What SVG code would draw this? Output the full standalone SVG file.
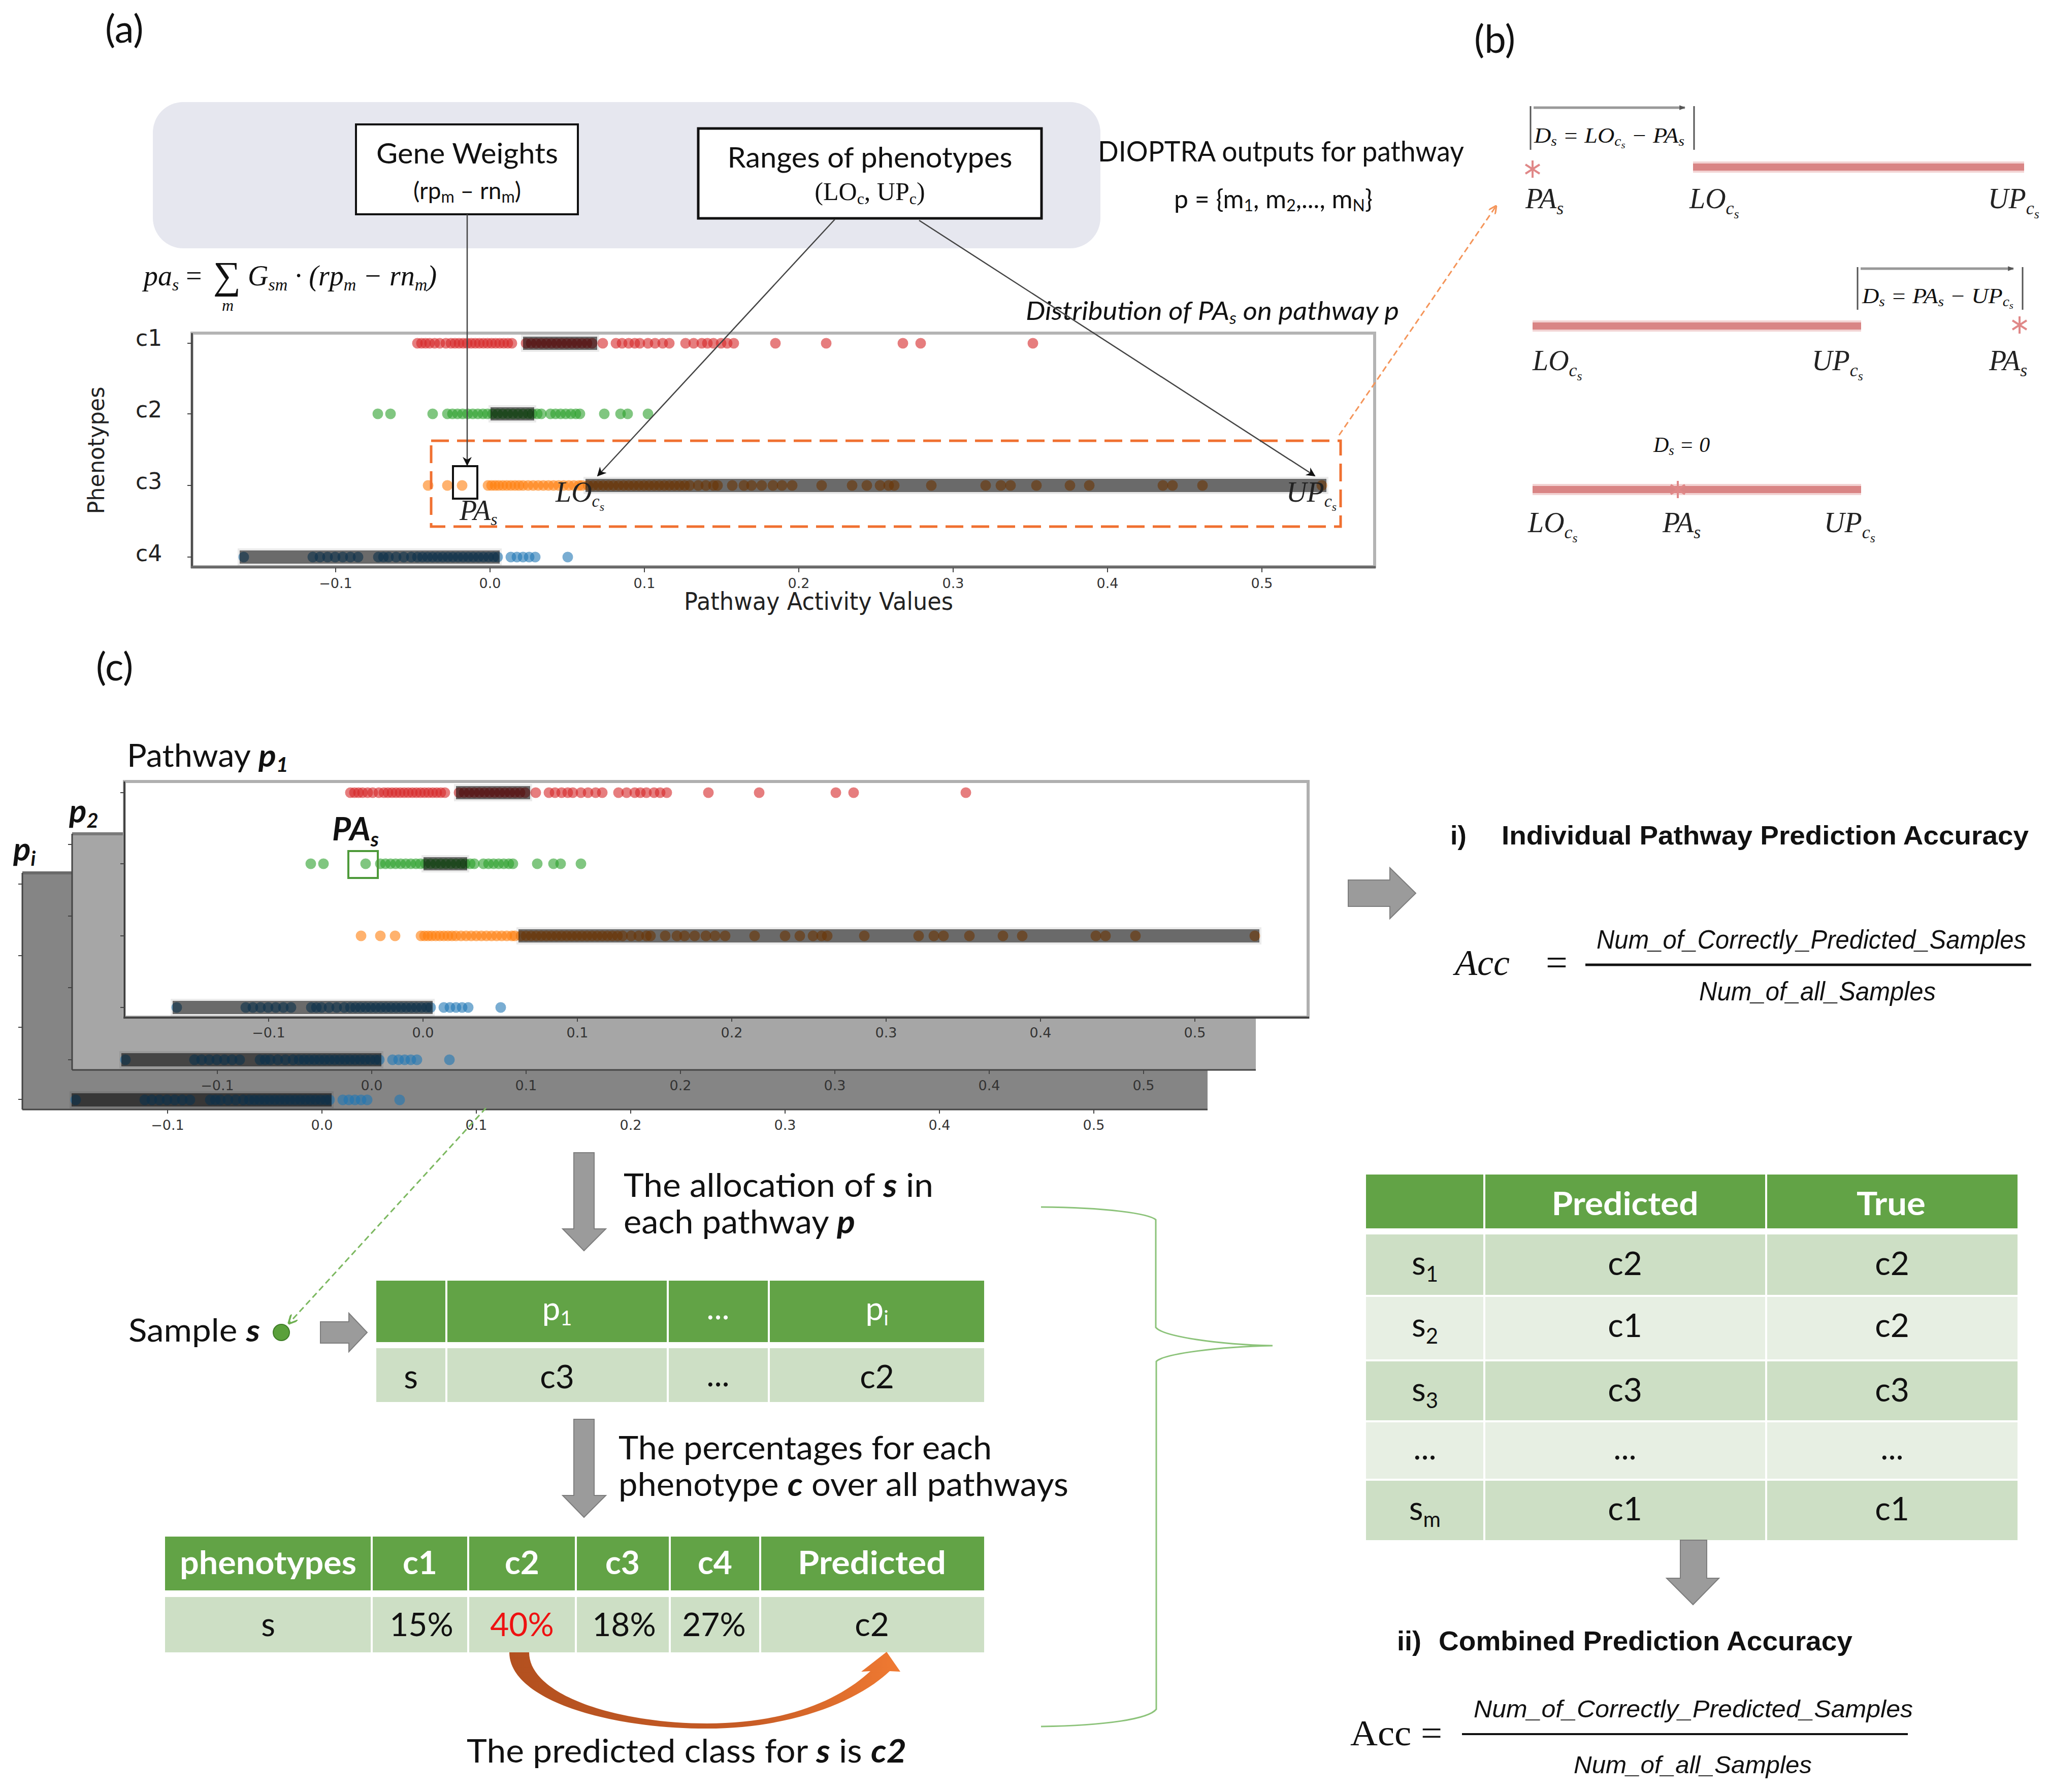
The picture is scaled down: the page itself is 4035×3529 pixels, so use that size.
<svg xmlns="http://www.w3.org/2000/svg" width="4035" height="3529" viewBox="0 0 4035 3529">
<style>
.sans{font-family:Lato,"Liberation Sans",sans-serif;fill:#111}
.mpl{font-family:"DejaVu Sans","Liberation Sans",sans-serif;fill:#222}
.ser{font-family:"Liberation Serif","Times New Roman",serif;fill:#111}
.ar{font-family:"Liberation Sans",Arial,sans-serif;fill:#111}
.it{font-style:italic}
.bi{font-weight:bold;font-style:italic}
.tick{font-family:"DejaVu Sans","Liberation Sans",sans-serif;font-size:27px;fill:#333;text-anchor:middle}
.hdr{fill:#62a346}
.bd{fill:#cddfc5}
.bl{fill:#e7efe3}
.cell{font-family:Lato,"Liberation Sans",sans-serif;font-size:64px;fill:#111;text-anchor:middle}
.hcell{font-family:Lato,"Liberation Sans",sans-serif;font-size:64px;fill:#fff;text-anchor:middle}
.blk{fill:#9b9b9b;stroke:#7d7d7d;stroke-width:2}
.bar{stroke:#d98585;stroke-width:14;fill:none}
.barh{stroke:#f2d3d3;stroke-width:22;fill:none}
.ast{stroke:#e08888;stroke-width:4;fill:none}
.brk{stroke:#555;stroke-width:3}
.lab{font-family:"Liberation Serif",serif;font-style:italic;font-size:56px;fill:#222}
.tk{stroke:#444;stroke-width:2}
.dots circle{r:10.5px}
</style>
<defs>
<marker id="ah" viewBox="0 0 10 10" refX="9" refY="5" markerWidth="18" markerHeight="18" markerUnits="userSpaceOnUse" orient="auto"><path d="M0,0 L10,5 L0,10 L3,5 z" fill="#111"/></marker>
<marker id="ahs" viewBox="0 0 10 10" refX="9" refY="5" markerWidth="12" markerHeight="12" markerUnits="userSpaceOnUse" orient="auto"><path d="M0,1 L10,5 L0,9 z" fill="#555"/></marker>
<marker id="aho" viewBox="0 0 10 10" refX="9" refY="5" markerWidth="16" markerHeight="16" markerUnits="userSpaceOnUse" orient="auto"><path d="M0,0 L10,5 L0,10" fill="none" stroke="#f4955a" stroke-width="2"/></marker>
<marker id="ahg" viewBox="0 0 10 10" refX="9" refY="5" markerWidth="18" markerHeight="18" markerUnits="userSpaceOnUse" orient="auto"><path d="M0,0 L10,5 L0,10" fill="none" stroke="#6fb052" stroke-width="2"/></marker>
<linearGradient id="og" x1="0" y1="0" x2="1" y2="0"><stop offset="0" stop-color="#b3501f"/><stop offset="0.6" stop-color="#c65b25"/><stop offset="1" stop-color="#f07a32"/></linearGradient>
<g id="rowC1">
<g class="dots" fill="#d62728" fill-opacity="0.6">
<circle cx="822" r="10"/><circle cx="830" r="10"/><circle cx="838" r="10"/><circle cx="846" r="10"/><circle cx="856" r="10"/><circle cx="866" r="10"/><circle cx="878" r="10"/><circle cx="888" r="10"/><circle cx="896" r="10"/><circle cx="904" r="10"/><circle cx="912" r="10"/><circle cx="920" r="10"/><circle cx="928" r="10"/><circle cx="936" r="10"/><circle cx="944" r="10"/><circle cx="952" r="10"/><circle cx="960" r="10"/><circle cx="968" r="10"/><circle cx="976" r="10"/><circle cx="984" r="10"/><circle cx="992" r="10"/><circle cx="1000" r="10"/><circle cx="1008" r="10"/><circle cx="1036" r="10"/><circle cx="1046" r="10"/><circle cx="1056" r="10"/><circle cx="1066" r="10"/><circle cx="1076" r="10"/><circle cx="1086" r="10"/><circle cx="1096" r="10"/><circle cx="1106" r="10"/><circle cx="1116" r="10"/><circle cx="1126" r="10"/><circle cx="1136" r="10"/><circle cx="1146" r="10"/><circle cx="1156" r="10"/><circle cx="1166" r="10"/><circle cx="1187" r="10"/><circle cx="1213" r="10"/><circle cx="1225" r="10"/><circle cx="1238" r="10"/><circle cx="1250" r="10"/><circle cx="1260" r="10"/><circle cx="1276" r="10"/><circle cx="1290" r="10"/><circle cx="1305" r="10"/><circle cx="1318" r="10"/><circle cx="1350" r="10"/><circle cx="1366" r="10"/><circle cx="1382" r="10"/><circle cx="1393" r="10"/><circle cx="1405" r="10"/><circle cx="1420" r="10"/><circle cx="1432" r="10"/><circle cx="1445" r="10"/><circle cx="1527" r="10"/><circle cx="1627" r="10"/><circle cx="1778" r="10"/><circle cx="1813" r="10"/><circle cx="2034" r="10"/>
</g>
<rect x="1026" y="-17" width="154" height="34" fill="#000" fill-opacity="0.08"/>
<rect x="1030" y="-13" width="146" height="26" fill="#000" fill-opacity="0.55"/>
</g>
<g id="rowC2">
<g class="dots" fill="#2ca02c" fill-opacity="0.6">
<circle cx="744" r="10"/><circle cx="769" r="10"/><circle cx="852" r="10"/><circle cx="881" r="10"/><circle cx="891" r="10"/><circle cx="901" r="10"/><circle cx="911" r="10"/><circle cx="921" r="10"/><circle cx="931" r="10"/><circle cx="941" r="10"/><circle cx="951" r="10"/><circle cx="960" r="10"/><circle cx="970" r="10"/><circle cx="980" r="10"/><circle cx="990" r="10"/><circle cx="1000" r="10"/><circle cx="1010" r="10"/><circle cx="1020" r="10"/><circle cx="1030" r="10"/><circle cx="1040" r="10"/><circle cx="1048" r="10"/><circle cx="1058" r="10"/><circle cx="1066" r="10"/><circle cx="1084" r="10"/><circle cx="1094" r="10"/><circle cx="1104" r="10"/><circle cx="1114" r="10"/><circle cx="1124" r="10"/><circle cx="1134" r="10"/><circle cx="1142" r="10"/><circle cx="1190" r="10"/><circle cx="1222" r="10"/><circle cx="1236" r="10"/><circle cx="1276" r="10"/>
</g>
<rect x="962" y="-17" width="94" height="34" fill="#000" fill-opacity="0.08"/>
<rect x="966" y="-13" width="86" height="26" fill="#000" fill-opacity="0.55"/>
</g>
<g id="rowC3">
<g class="dots" fill="#ff7f0e" fill-opacity="0.6">
<circle cx="843" r="10"/><circle cx="881" r="10"/><circle cx="910" r="10"/><circle cx="961" r="10"/><circle cx="968" r="10"/><circle cx="975" r="10"/><circle cx="982" r="10"/><circle cx="990" r="10"/><circle cx="998" r="10"/><circle cx="1006" r="10"/><circle cx="1014" r="10"/><circle cx="1022" r="10"/><circle cx="1030" r="10"/><circle cx="1040" r="10"/><circle cx="1050" r="10"/><circle cx="1060" r="10"/><circle cx="1070" r="10"/><circle cx="1080" r="10"/><circle cx="1090" r="10"/><circle cx="1100" r="10"/><circle cx="1110" r="10"/><circle cx="1120" r="10"/><circle cx="1130" r="10"/><circle cx="1140" r="10"/><circle cx="1146" r="10"/><circle cx="1158" r="10"/><circle cx="1168" r="10"/><circle cx="1178" r="10"/><circle cx="1188" r="10"/><circle cx="1198" r="10"/><circle cx="1208" r="10"/><circle cx="1218" r="10"/><circle cx="1228" r="10"/><circle cx="1238" r="10"/><circle cx="1248" r="10"/><circle cx="1258" r="10"/><circle cx="1268" r="10"/><circle cx="1278" r="10"/><circle cx="1288" r="10"/><circle cx="1298" r="10"/><circle cx="1308" r="10"/><circle cx="1318" r="10"/><circle cx="1328" r="10"/><circle cx="1338" r="10"/><circle cx="1348" r="10"/><circle cx="1358" r="10"/><circle cx="1375" r="10"/><circle cx="1390" r="10"/><circle cx="1405" r="10"/><circle cx="1413" r="10"/><circle cx="1442" r="10"/><circle cx="1465" r="10"/><circle cx="1480" r="10"/><circle cx="1500" r="10"/><circle cx="1522" r="10"/><circle cx="1540" r="10"/><circle cx="1560" r="10"/><circle cx="1618" r="10"/><circle cx="1678" r="10"/><circle cx="1707" r="10"/><circle cx="1733" r="10"/><circle cx="1750" r="10"/><circle cx="1761" r="10"/><circle cx="1834" r="10"/><circle cx="1941" r="10"/><circle cx="1971" r="10"/><circle cx="1990" r="10"/><circle cx="2041" r="10"/><circle cx="2107" r="10"/><circle cx="2145" r="10"/><circle cx="2290" r="10"/><circle cx="2309" r="10"/><circle cx="2368" r="10"/><circle cx="2603" r="10"/>
</g>
<rect x="1149" y="-17" width="1467" height="34" fill="#000" fill-opacity="0.08"/>
<rect x="1153" y="-13" width="1459" height="26" fill="#000" fill-opacity="0.55"/>
</g>
<g id="rowC4">
<g class="dots" fill="#1f77b4" fill-opacity="0.6">
<circle cx="480" r="10"/><circle cx="616" r="10"/><circle cx="630" r="10"/><circle cx="645" r="10"/><circle cx="660" r="10"/><circle cx="675" r="10"/><circle cx="690" r="10"/><circle cx="705" r="10"/><circle cx="745" r="10"/><circle cx="755" r="10"/><circle cx="765" r="10"/><circle cx="780" r="10"/><circle cx="795" r="10"/><circle cx="810" r="10"/><circle cx="822" r="10"/><circle cx="832" r="10"/><circle cx="842" r="10"/><circle cx="852" r="10"/><circle cx="862" r="10"/><circle cx="872" r="10"/><circle cx="882" r="10"/><circle cx="892" r="10"/><circle cx="902" r="10"/><circle cx="912" r="10"/><circle cx="922" r="10"/><circle cx="932" r="10"/><circle cx="942" r="10"/><circle cx="952" r="10"/><circle cx="962" r="10"/><circle cx="972" r="10"/><circle cx="980" r="10"/><circle cx="1006" r="10"/><circle cx="1018" r="10"/><circle cx="1030" r="10"/><circle cx="1042" r="10"/><circle cx="1054" r="10"/><circle cx="1118" r="10"/>
</g>
<rect x="468" y="-17" width="520" height="34" fill="#000" fill-opacity="0.08"/>
<rect x="472" y="-13" width="512" height="26" fill="#000" fill-opacity="0.55"/>
</g>
</defs>

<rect x="0" y="0" width="4035" height="3529" fill="#fff"/>

<!-- Panel labels -->
<text class="sans" x="207" y="84" font-size="76">(a)</text>
<text class="sans" x="2903" y="104" font-size="76">(b)</text>
<text class="sans" x="189" y="1340" font-size="76">(c)</text>

<!-- ===== Panel (a) ===== -->
<g id="dioptra-bg">
<rect x="301" y="201" width="1866" height="288" rx="60" fill="#e6e7ef"/>
</g>
<g id="gene-weights">
<rect x="701" y="245" width="437" height="177" fill="#fff" stroke="#111" stroke-width="4"/>
<text class="sans" x="920" y="322" font-size="56" text-anchor="middle" textLength="358" lengthAdjust="spacingAndGlyphs">Gene Weights</text>
<text class="sans" x="920" y="392" font-size="46" text-anchor="middle">(rp<tspan font-size="32" dy="7">m</tspan><tspan dy="-7"> – rn</tspan><tspan font-size="32" dy="7">m</tspan><tspan dy="-7">)</tspan></text>
</g>
<g id="ranges">
<rect x="1375" y="253" width="676" height="177" fill="#fff" stroke="#111" stroke-width="5"/>
<text class="sans" x="1713" y="330" font-size="56" text-anchor="middle" textLength="561" lengthAdjust="spacingAndGlyphs">Ranges of phenotypes</text>
<text class="ser" x="1713" y="394" font-size="50" text-anchor="middle">(LO<tspan font-size="32" dy="8">c</tspan><tspan dy="-8">, UP</tspan><tspan font-size="32" dy="8">c</tspan><tspan dy="-8">)</tspan></text>
</g>
<g id="dioptra-text">
<text class="sans" x="2162" y="318" font-size="56" textLength="721" lengthAdjust="spacingAndGlyphs">DIOPTRA outputs for pathway</text>
<text class="sans" x="2312" y="410" font-size="50" textLength="391" lengthAdjust="spacingAndGlyphs">p = {m<tspan font-size="32" dy="6">1</tspan><tspan dy="-6">, m</tspan><tspan font-size="32" dy="6">2</tspan><tspan dy="-6">,..., m</tspan><tspan font-size="32" dy="6">N</tspan><tspan dy="-6">}</tspan></text>
</g>
<g id="formula-pa">
<text class="ser it" x="283" y="562" font-size="56">pa<tspan font-size="34" dy="10">s</tspan></text>
<text class="ser" x="366" y="562" font-size="56">=</text>
<text class="ser" x="420" y="568" font-size="76">∑</text>
<text class="ser it" x="437" y="612" font-size="32">m</text>
<text class="ser it" x="488" y="562" font-size="56">G<tspan font-size="34" dy="10">sm</tspan><tspan dy="-10"> · (rp</tspan><tspan font-size="34" dy="10">m</tspan><tspan dy="-10"> − rn</tspan><tspan font-size="34" dy="10">m</tspan><tspan dy="-10">)</tspan></text>
</g>

<g id="plot-a">
<rect x="378" y="656" width="2329" height="460" fill="#fff" stroke="#b4b4b4" stroke-width="6"/>
<line x1="378" y1="656" x2="378" y2="1118" stroke="#333" stroke-width="3"/>
<line x1="376" y1="1117" x2="2709" y2="1117" stroke="#666" stroke-width="5"/>
<g class="tk">
<line x1="369" y1="676" x2="378" y2="676"/><line x1="369" y1="815" x2="378" y2="815"/><line x1="369" y1="956" x2="378" y2="956"/><line x1="369" y1="1097" x2="378" y2="1097"/>
<line x1="661" y1="1118" x2="661" y2="1127"/><line x1="965" y1="1118" x2="965" y2="1127"/><line x1="1269" y1="1118" x2="1269" y2="1127"/><line x1="1573" y1="1118" x2="1573" y2="1127"/><line x1="1877" y1="1118" x2="1877" y2="1127"/><line x1="2181" y1="1118" x2="2181" y2="1127"/><line x1="2485" y1="1118" x2="2485" y2="1127"/>
</g>
<text class="tick" x="661" y="1158">−0.1</text><text class="tick" x="965" y="1158">0.0</text><text class="tick" x="1269" y="1158">0.1</text><text class="tick" x="1573" y="1158">0.2</text><text class="tick" x="1877" y="1158">0.3</text><text class="tick" x="2181" y="1158">0.4</text><text class="tick" x="2485" y="1158">0.5</text>
<text class="mpl" x="267" y="681" font-size="44">c1</text>
<text class="mpl" x="267" y="822" font-size="44">c2</text>
<text class="mpl" x="267" y="963" font-size="44">c3</text>
<text class="mpl" x="267" y="1105" font-size="44">c4</text>
<text class="mpl" transform="translate(205,887) rotate(-90)" font-size="44" text-anchor="middle" textLength="251" lengthAdjust="spacingAndGlyphs">Phenotypes</text>
<text class="mpl" x="1612" y="1201" font-size="48" text-anchor="middle" textLength="530" lengthAdjust="spacingAndGlyphs" fill="#111">Pathway Activity Values</text>
<use href="#rowC1" y="676"/>
<use href="#rowC2" y="815"/>
<use href="#rowC3" y="956"/>
<use href="#rowC4" y="1097"/>
<rect x="892" y="918" width="48" height="64" fill="none" stroke="#111" stroke-width="4"/>
<rect x="849" y="868" width="1791" height="169" fill="none" stroke="#f07030" stroke-width="5" stroke-dasharray="35 16"/>
<text class="lab" x="1094" y="988" font-size="52">LO<tspan font-size="34" dy="10">c</tspan><tspan font-size="24" dy="8">s</tspan></text>
<text class="lab" x="905" y="1024" font-size="52">PA<tspan font-size="34" dy="10">s</tspan></text>
<text class="lab" x="2533" y="988" font-size="52">UP<tspan font-size="34" dy="10">c</tspan><tspan font-size="24" dy="8">s</tspan></text>
<text class="sans it" x="2020" y="630" font-size="50" textLength="735" lengthAdjust="spacingAndGlyphs">Distribution of PA<tspan font-size="32" dy="8">s</tspan><tspan dy="-8"> on pathway p</tspan></text>
</g>

<!-- ===== Panel (b) ===== -->
<g id="case-below">
<line class="brk" x1="3014" y1="209" x2="3014" y2="295"/>
<line class="brk" x1="3336" y1="209" x2="3336" y2="295"/>
<line x1="3020" y1="212" x2="3318" y2="212" stroke="#999" stroke-width="5" marker-end="url(#ahs)"/>
<text class="ser it" x="3021" y="281" font-size="42" textLength="296" lengthAdjust="spacingAndGlyphs" fill="#444">D<tspan font-size="27" dy="6">s</tspan><tspan dy="-6"> = LO</tspan><tspan font-size="27" dy="6">c</tspan><tspan font-size="19" dy="5">s</tspan><tspan dy="-11"> − PA</tspan><tspan font-size="27" dy="6">s</tspan></text>
<line class="barh" x1="3334" y1="329" x2="3986" y2="329"/>
<line class="bar" x1="3334" y1="329" x2="3986" y2="329"/>
<g class="ast" transform="translate(3018,333)"><line x1="0" y1="-17" x2="0" y2="17"/><line x1="-14" y1="-9" x2="14" y2="9"/><line x1="-14" y1="9" x2="14" y2="-9"/></g>
<text class="lab" x="3004" y="410" font-size="58">PA<tspan font-size="36" dy="12">s</tspan></text>
<text class="lab" x="3327" y="410" font-size="58">LO<tspan font-size="36" dy="12">c</tspan><tspan font-size="26" dy="8">s</tspan></text>
<text class="lab" x="3915" y="410" font-size="58">UP<tspan font-size="36" dy="12">c</tspan><tspan font-size="26" dy="8">s</tspan></text>
</g>
<g id="case-above">
<line class="brk" x1="3658" y1="526" x2="3658" y2="610"/>
<line class="brk" x1="3983" y1="526" x2="3983" y2="610"/>
<line x1="3664" y1="529" x2="3965" y2="529" stroke="#999" stroke-width="5" marker-end="url(#ahs)"/>
<text class="ser it" x="3667" y="597" font-size="42" textLength="298" lengthAdjust="spacingAndGlyphs" fill="#444">D<tspan font-size="27" dy="6">s</tspan><tspan dy="-6"> = PA</tspan><tspan font-size="27" dy="6">s</tspan><tspan dy="-6"> − UP</tspan><tspan font-size="27" dy="6">c</tspan><tspan font-size="19" dy="5">s</tspan></text>
<line class="barh" x1="3018" y1="642" x2="3665" y2="642"/>
<line class="bar" x1="3018" y1="642" x2="3665" y2="642"/>
<g class="ast" transform="translate(3977,640)"><line x1="0" y1="-17" x2="0" y2="17"/><line x1="-14" y1="-9" x2="14" y2="9"/><line x1="-14" y1="9" x2="14" y2="-9"/></g>
<text class="lab" x="3018" y="729" font-size="58">LO<tspan font-size="36" dy="12">c</tspan><tspan font-size="26" dy="8">s</tspan></text>
<text class="lab" x="3568" y="729" font-size="58">UP<tspan font-size="36" dy="12">c</tspan><tspan font-size="26" dy="8">s</tspan></text>
<text class="lab" x="3917" y="729" font-size="58">PA<tspan font-size="36" dy="12">s</tspan></text>
</g>
<g id="case-inside">
<text class="ser it" x="3256" y="890" font-size="42" fill="#444">D<tspan font-size="27" dy="6">s</tspan><tspan dy="-6"> = 0</tspan></text>
<line class="barh" x1="3018" y1="964" x2="3665" y2="964"/>
<line class="bar" x1="3018" y1="964" x2="3665" y2="964"/>
<g class="ast" transform="translate(3304,964)" stroke="#d96f6f"><line x1="0" y1="-17" x2="0" y2="17"/><line x1="-14" y1="-9" x2="14" y2="9"/><line x1="-14" y1="9" x2="14" y2="-9"/></g>
<text class="lab" x="3009" y="1048" font-size="58">LO<tspan font-size="36" dy="12">c</tspan><tspan font-size="26" dy="8">s</tspan></text>
<text class="lab" x="3274" y="1048" font-size="58">PA<tspan font-size="36" dy="12">s</tspan></text>
<text class="lab" x="3592" y="1048" font-size="58">UP<tspan font-size="36" dy="12">c</tspan><tspan font-size="26" dy="8">s</tspan></text>
</g>

<!-- ===== Panel (c) stacked plots ===== -->
<g id="plot-pi">
<rect x="44" y="1719" width="2334" height="466" fill="#858585"/>
<line x1="44" y1="1719" x2="2378" y2="1719" stroke="#6a6a6a" stroke-width="6"/>
<line x1="44" y1="1719" x2="44" y2="2185" stroke="#444" stroke-width="3"/>
<line x1="44" y1="2185" x2="2378" y2="2185" stroke="#444" stroke-width="3"/>
<g class="tk"><line x1="36" y1="1741" x2="44" y2="1741"/><line x1="36" y1="1882" x2="44" y2="1882"/><line x1="36" y1="2023" x2="44" y2="2023"/><line x1="36" y1="2165" x2="44" y2="2165"/>
<line x1="330" y1="2185" x2="330" y2="2193"/><line x1="634" y1="2185" x2="634" y2="2193"/><line x1="938" y1="2185" x2="938" y2="2193"/><line x1="1242" y1="2185" x2="1242" y2="2193"/><line x1="1546" y1="2185" x2="1546" y2="2193"/><line x1="1850" y1="2185" x2="1850" y2="2193"/><line x1="2154" y1="2185" x2="2154" y2="2193"/></g>
<text class="tick" x="330" y="2225">−0.1</text><text class="tick" x="634" y="2225">0.0</text><text class="tick" x="938" y="2225">0.1</text><text class="tick" x="1242" y="2225">0.2</text><text class="tick" x="1546" y="2225">0.3</text><text class="tick" x="1850" y="2225">0.4</text><text class="tick" x="2154" y="2225">0.5</text>
<use href="#rowC4" x="-331" y="2166"/>
<text class="sans bi" x="26" y="1695" font-size="64">p<tspan font-size="40" dy="10">i</tspan></text>
</g>
<g id="plot-p2">
<rect x="142" y="1642" width="2331" height="465" fill="#a6a6a6"/>
<line x1="142" y1="1642" x2="2473" y2="1642" stroke="#7a7a7a" stroke-width="6"/>
<line x1="142" y1="1642" x2="142" y2="2107" stroke="#444" stroke-width="3"/>
<line x1="142" y1="2107" x2="2473" y2="2107" stroke="#444" stroke-width="3"/>
<g class="tk"><line x1="134" y1="1663" x2="142" y2="1663"/><line x1="134" y1="1804" x2="142" y2="1804"/><line x1="134" y1="1945" x2="142" y2="1945"/><line x1="134" y1="2087" x2="142" y2="2087"/>
<line x1="428" y1="2107" x2="428" y2="2115"/><line x1="732" y1="2107" x2="732" y2="2115"/><line x1="1036" y1="2107" x2="1036" y2="2115"/><line x1="1340" y1="2107" x2="1340" y2="2115"/><line x1="1644" y1="2107" x2="1644" y2="2115"/><line x1="1948" y1="2107" x2="1948" y2="2115"/><line x1="2252" y1="2107" x2="2252" y2="2115"/></g>
<text class="tick" x="428" y="2147">−0.1</text><text class="tick" x="732" y="2147">0.0</text><text class="tick" x="1036" y="2147">0.1</text><text class="tick" x="1340" y="2147">0.2</text><text class="tick" x="1644" y="2147">0.3</text><text class="tick" x="1948" y="2147">0.4</text><text class="tick" x="2252" y="2147">0.5</text>
<use href="#rowC4" x="-233" y="2087"/>
<text class="sans bi" x="136" y="1620" font-size="64">p<tspan font-size="40" dy="10">2</tspan></text>
</g>
<g id="plot-p1">
<text class="sans" x="250" y="1510" font-size="62" textLength="318" lengthAdjust="spacingAndGlyphs">Pathway <tspan class="bi">p</tspan><tspan class="bi" font-size="40" dy="10">1</tspan></text>
<rect x="245" y="1539" width="2331" height="464" fill="#fff" stroke="#b0b0b0" stroke-width="6"/>
<line x1="245" y1="1539" x2="245" y2="2004" stroke="#333" stroke-width="3"/>
<line x1="243" y1="2004" x2="2578" y2="2004" stroke="#444" stroke-width="4"/>
<g class="tk"><line x1="237" y1="1561" x2="245" y2="1561"/><line x1="237" y1="1701" x2="245" y2="1701"/><line x1="237" y1="1843" x2="245" y2="1843"/><line x1="237" y1="1984" x2="245" y2="1984"/>
<line x1="529" y1="2004" x2="529" y2="2012"/><line x1="833" y1="2004" x2="833" y2="2012"/><line x1="1137" y1="2004" x2="1137" y2="2012"/><line x1="1441" y1="2004" x2="1441" y2="2012"/><line x1="1745" y1="2004" x2="1745" y2="2012"/><line x1="2049" y1="2004" x2="2049" y2="2012"/><line x1="2353" y1="2004" x2="2353" y2="2012"/></g>
<text class="tick" x="529" y="2043">−0.1</text><text class="tick" x="833" y="2043">0.0</text><text class="tick" x="1137" y="2043">0.1</text><text class="tick" x="1441" y="2043">0.2</text><text class="tick" x="1745" y="2043">0.3</text><text class="tick" x="2049" y="2043">0.4</text><text class="tick" x="2353" y="2043">0.5</text>
<use href="#rowC1" x="-132" y="1561"/>
<use href="#rowC2" x="-132" y="1701"/>
<use href="#rowC3" x="-132" y="1843"/>
<use href="#rowC4" x="-132" y="1984"/>
<rect x="686" y="1676" width="58" height="53" fill="none" stroke="#4e9a3a" stroke-width="4"/>
<text class="sans bi" x="654" y="1655" font-size="64">PA<tspan font-size="40" dy="12">s</tspan></text>
</g>

<!-- Individual accuracy -->
<g id="individual-acc">
<text class="ar" x="2856" y="1663" font-size="52" font-weight="bold">i)</text>
<text class="ar" x="2957" y="1663" font-size="52" font-weight="bold" textLength="1038" lengthAdjust="spacingAndGlyphs">Individual Pathway Prediction Accuracy</text>
<text class="ser it" x="2865" y="1920" font-size="72">Acc</text>
<text class="ser" x="3044" y="1921" font-size="76" fill="#444">=</text>
<line x1="3122" y1="1900" x2="4000" y2="1900" stroke="#111" stroke-width="5"/>
<text class="ar it" x="3144" y="1868" font-size="52" textLength="846" lengthAdjust="spacingAndGlyphs">Num_of_Correctly_Predicted_Samples</text>
<text class="ar it" x="3346" y="1970" font-size="52" textLength="466" lengthAdjust="spacingAndGlyphs">Num_of_all_Samples</text>
</g>

<!-- Sample s -->
<g id="sample">
<text class="sans" x="253" y="2642" font-size="62" textLength="259" lengthAdjust="spacingAndGlyphs">Sample <tspan class="bi">s</tspan></text>
<circle cx="554" cy="2624" r="16" fill="#5aa03a" stroke="#3f7d28" stroke-width="2"/>
</g>

<!-- Table 1 -->
<g id="table-allocation">
<rect class="hdr" x="741" y="2522" width="136" height="121"/>
<rect class="hdr" x="881" y="2522" width="432" height="121"/>
<rect class="hdr" x="1317" y="2522" width="195" height="121"/>
<rect class="hdr" x="1516" y="2522" width="422" height="121"/>
<rect class="bd" x="741" y="2655" width="136" height="106"/>
<rect class="bd" x="881" y="2655" width="432" height="106"/>
<rect class="bd" x="1317" y="2655" width="195" height="106"/>
<rect class="bd" x="1516" y="2655" width="422" height="106"/>
<text class="hcell" x="1097" y="2600">p<tspan font-size="40" dy="10">1</tspan></text>
<text class="hcell" x="1414" y="2598">...</text>
<text class="hcell" x="1727" y="2600">p<tspan font-size="40" dy="10">i</tspan></text>
<text class="cell" x="809" y="2734">s</text>
<text class="cell" x="1097" y="2734">c3</text>
<text class="cell" x="1414" y="2730">...</text>
<text class="cell" x="1727" y="2734">c2</text>
</g>

<!-- Captions -->
<g id="captions">
<text class="sans" x="1228" y="2357" font-size="64" textLength="610" lengthAdjust="spacingAndGlyphs">The allocation of <tspan class="bi">s</tspan> in</text>
<text class="sans" x="1228" y="2429" font-size="64" textLength="456" lengthAdjust="spacingAndGlyphs">each pathway <tspan class="bi">p</tspan></text>
<text class="sans" x="1218" y="2874" font-size="64" textLength="735" lengthAdjust="spacingAndGlyphs">The percentages for each</text>
<text class="sans" x="1218" y="2946" font-size="64" textLength="886" lengthAdjust="spacingAndGlyphs">phenotype <tspan class="bi">c</tspan> over all pathways</text>
<text class="sans" x="919" y="3471" font-size="64" textLength="866" lengthAdjust="spacingAndGlyphs">The predicted class for <tspan class="bi">s</tspan> is <tspan class="bi">c2</tspan></text>
</g>

<!-- Table 2 -->
<g id="table-percentages">
<rect class="hdr" x="325" y="3026" width="405" height="106"/>
<rect class="hdr" x="734" y="3026" width="186" height="106"/>
<rect class="hdr" x="924" y="3026" width="208" height="106"/>
<rect class="hdr" x="1136" y="3026" width="181" height="106"/>
<rect class="hdr" x="1321" y="3026" width="174" height="106"/>
<rect class="hdr" x="1499" y="3026" width="439" height="106"/>
<rect class="bd" x="325" y="3145" width="405" height="109"/>
<rect class="bd" x="734" y="3145" width="186" height="109"/>
<rect class="bd" x="924" y="3145" width="208" height="109"/>
<rect class="bd" x="1136" y="3145" width="181" height="109"/>
<rect class="bd" x="1321" y="3145" width="174" height="109"/>
<rect class="bd" x="1499" y="3145" width="439" height="109"/>
<text class="hcell" x="528" y="3100" font-weight="bold" textLength="348" lengthAdjust="spacingAndGlyphs">phenotypes</text>
<text class="hcell" x="827" y="3100" font-weight="bold">c1</text>
<text class="hcell" x="1028" y="3100" font-weight="bold">c2</text>
<text class="hcell" x="1226" y="3100" font-weight="bold">c3</text>
<text class="hcell" x="1408" y="3100" font-weight="bold">c4</text>
<text class="hcell" x="1717" y="3100" font-weight="bold" textLength="292" lengthAdjust="spacingAndGlyphs">Predicted</text>
<text class="cell" x="528" y="3222">s</text>
<text class="cell" x="830" y="3222">15%</text>
<text class="cell" x="1028" y="3222" style="fill:#ee1111">40%</text>
<text class="cell" x="1229" y="3222">18%</text>
<text class="cell" x="1406" y="3222">27%</text>
<text class="cell" x="1717" y="3222">c2</text>
</g>

<!-- Right table -->
<g id="table-samples">
<rect class="hdr" x="2690" y="2313" width="231" height="106"/>
<rect class="hdr" x="2925" y="2313" width="551" height="106"/>
<rect class="hdr" x="3480" y="2313" width="493" height="106"/>
<rect class="bd" x="2690" y="2431" width="231" height="119"/><rect class="bd" x="2925" y="2431" width="551" height="119"/><rect class="bd" x="3480" y="2431" width="493" height="119"/>
<rect class="bl" x="2690" y="2554" width="231" height="123"/><rect class="bl" x="2925" y="2554" width="551" height="123"/><rect class="bl" x="3480" y="2554" width="493" height="123"/>
<rect class="bd" x="2690" y="2681" width="231" height="116"/><rect class="bd" x="2925" y="2681" width="551" height="116"/><rect class="bd" x="3480" y="2681" width="493" height="116"/>
<rect class="bl" x="2690" y="2801" width="231" height="111"/><rect class="bl" x="2925" y="2801" width="551" height="111"/><rect class="bl" x="3480" y="2801" width="493" height="111"/>
<rect class="bd" x="2690" y="2916" width="231" height="117"/><rect class="bd" x="2925" y="2916" width="551" height="117"/><rect class="bd" x="3480" y="2916" width="493" height="117"/>
<text class="hcell" x="3200" y="2393" font-size="68" font-weight="bold" textLength="289" lengthAdjust="spacingAndGlyphs">Predicted</text>
<text class="hcell" x="3724" y="2393" font-size="68" font-weight="bold" textLength="136" lengthAdjust="spacingAndGlyphs">True</text>
<text class="cell" x="2806" y="2510">s<tspan font-size="42" dy="14">1</tspan></text>
<text class="cell" x="3200" y="2511">c2</text><text class="cell" x="3726" y="2511">c2</text>
<text class="cell" x="2806" y="2632">s<tspan font-size="42" dy="14">2</tspan></text>
<text class="cell" x="3200" y="2633">c1</text><text class="cell" x="3726" y="2633">c2</text>
<text class="cell" x="2806" y="2759">s<tspan font-size="42" dy="14">3</tspan></text>
<text class="cell" x="3200" y="2760">c3</text><text class="cell" x="3726" y="2760">c3</text>
<text class="cell" x="2806" y="2874">...</text>
<text class="cell" x="3200" y="2874">...</text><text class="cell" x="3726" y="2874">...</text>
<text class="cell" x="2806" y="2993">s<tspan font-size="42" dy="14">m</tspan></text>
<text class="cell" x="3200" y="2994">c1</text><text class="cell" x="3726" y="2994">c1</text>
</g>

<!-- Combined accuracy -->
<g id="combined-acc">
<text class="ar" x="2751" y="3250" font-size="54" font-weight="bold">ii)</text>
<text class="ar" x="2833" y="3250" font-size="54" font-weight="bold" textLength="815" lengthAdjust="spacingAndGlyphs">Combined Prediction Accuracy</text>
<text class="ser" x="2659" y="3437" font-size="72" textLength="181" lengthAdjust="spacingAndGlyphs">Acc =</text>
<line x1="2879" y1="3415" x2="3757" y2="3415" stroke="#111" stroke-width="4"/>
<text class="ar it" x="2902" y="3382" font-size="48" textLength="865" lengthAdjust="spacingAndGlyphs">Num_of_Correctly_Predicted_Samples</text>
<text class="ar it" x="3099" y="3492" font-size="48" textLength="469" lengthAdjust="spacingAndGlyphs">Num_of_all_Samples</text>
</g>

<!-- Connectors -->
<g id="connectors">
<line x1="920" y1="422" x2="920" y2="916" stroke="#444" stroke-width="2.5" marker-end="url(#ah)"/>
<line x1="1644" y1="432" x2="1177" y2="937" stroke="#444" stroke-width="2.5" marker-end="url(#ah)"/>
<line x1="1810" y1="434" x2="2589" y2="937" stroke="#444" stroke-width="2.5" marker-end="url(#ah)"/>
<line x1="2637" y1="857" x2="2946" y2="406" stroke="#f4955a" stroke-width="3" stroke-dasharray="12 7" marker-end="url(#aho)"/>
<line x1="957" y1="2182" x2="569" y2="2606" stroke="#7cb860" stroke-width="3" stroke-dasharray="12 7" marker-end="url(#ahg)"/>
<path class="blk" d="M2655,1733 L2737,1733 L2737,1709 L2788,1759 L2737,1809 L2737,1785 L2655,1785 Z"/>
<path class="blk" d="M631,2603 L687,2603 L687,2586 L723,2624 L687,2662 L687,2645 L631,2645 Z"/>
<path class="blk" d="M1130,2270 L1170,2270 L1170,2420 L1193,2420 L1150,2463 L1108,2420 L1130,2420 Z"/>
<path class="blk" d="M1130,2795 L1170,2795 L1170,2945 L1193,2945 L1150,2988 L1108,2945 L1130,2945 Z"/>
<path class="blk" d="M3309,3033 L3361,3033 L3361,3108 L3385,3108 L3334,3160 L3282,3108 L3309,3108 Z"/>
<path d="M1003,3254 C1003,3345 1190,3404 1392,3404 C1560,3404 1690,3350 1752,3291 L1773,3292 L1746,3253 L1696,3292 L1714,3291 C1650,3350 1545,3394 1392,3394 C1220,3394 1042,3340 1042,3254 Z" fill="url(#og)"/>
<path d="M2050,2377 C2180,2378 2262,2390 2276,2402 L2276,2614 C2290,2632 2400,2648 2506,2650 C2400,2652 2292,2666 2277,2681 L2277,3366 C2262,3385 2180,3398 2050,3400" fill="none" stroke="#8cc37a" stroke-width="3"/>
</g>
</svg>
